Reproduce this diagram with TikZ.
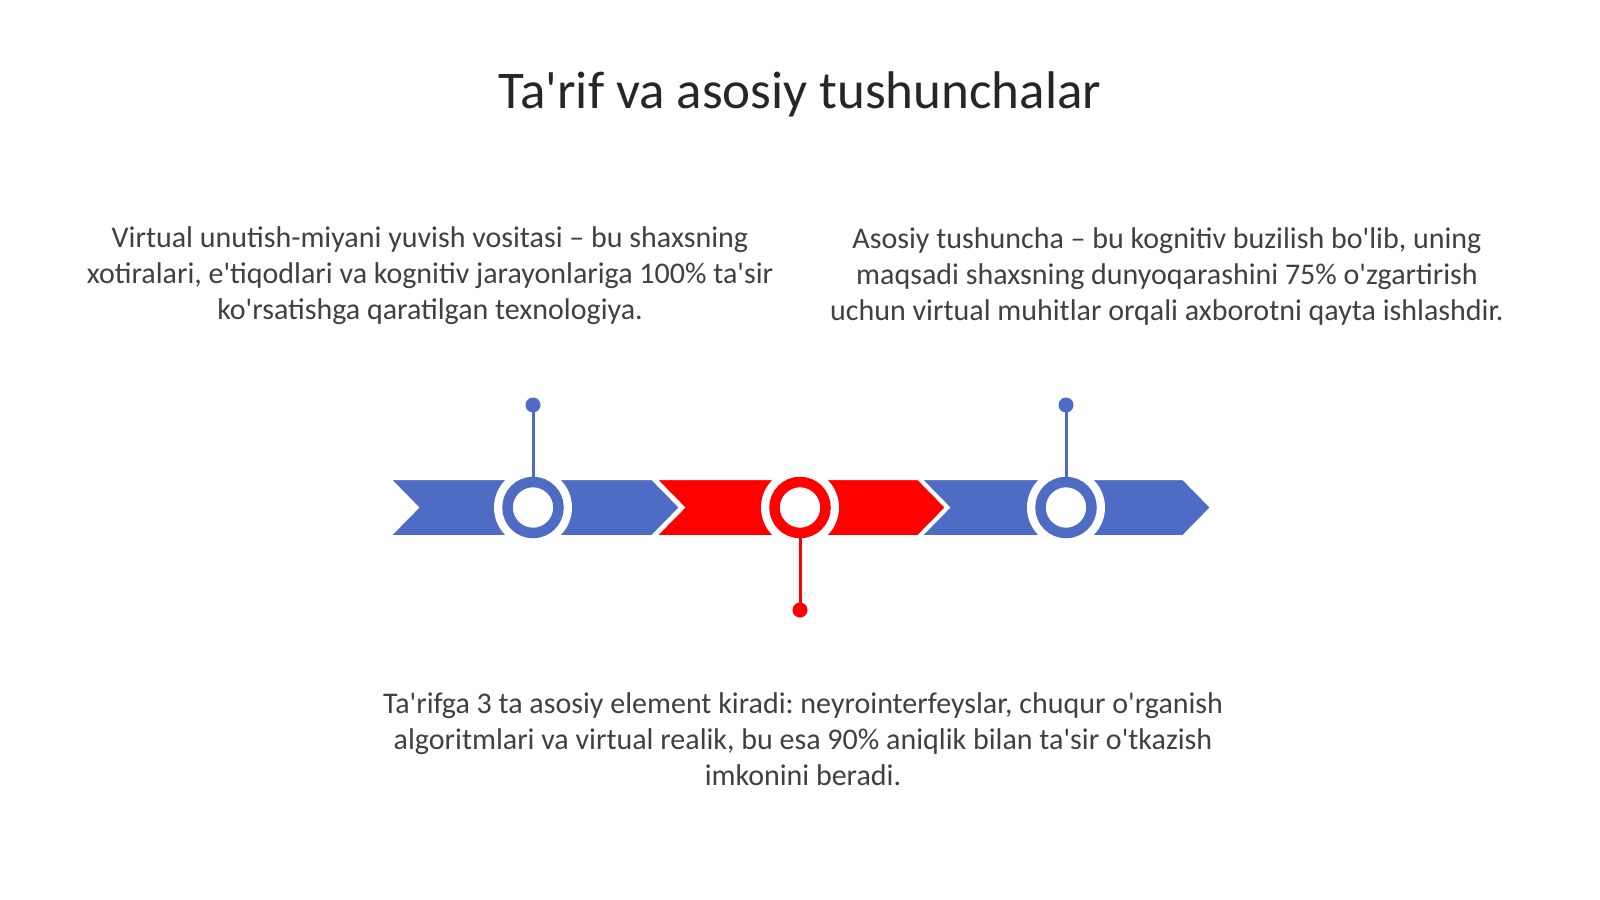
\documentclass[tikz,border=0pt]{standalone}
\usepackage{fontspec}
\setmainfont{Carlito}[Ligatures=TeXOff]
\frenchspacing
\definecolor{tlblue}{RGB}{78,108,196}
\definecolor{tlred}{RGB}{255,0,0}
\definecolor{txt}{RGB}{64,64,64}
\definecolor{ttl}{RGB}{38,38,38}
\tikzset{
  chev/.style={line width=2pt, draw=white, line join=miter},
  gapc/.style={circle, fill=white, minimum size=78pt, inner sep=0pt},
  ringc/.style={circle, minimum size=51pt, inner sep=0pt, fill=white, line width=10.5pt},
  dotc/.style={circle, minimum size=15pt, inner sep=0pt},
  pin/.style={line width=3pt},
  para/.style={text=txt, align=center, font=\fontsize{30}{36}\selectfont, inner sep=0pt},
}
\begin{document}
\begin{tikzpicture}[x=1pt,y=-1pt]
\useasboundingbox (0,0) rectangle (1600,899);
\fill[white] (0,0) rectangle (1600,899);
\node[text=ttl, font=\fontsize{53}{60}\selectfont, inner sep=0pt] (title) at (800,94) {Ta'rif va asosiy tushunchalar};
% chevrons
\foreach \cx/\col in {535/tlblue, 801/tlred, 1066/tlblue}{
  \fill[chev, fill=\col] (\cx-145,479) -- (\cx+117,479) -- (\cx+145,507.5) -- (\cx+117,536) -- (\cx-145,536) -- (\cx-117,507.5) -- cycle;
}
% circles
\node[gapc] (g1) at (533,507.5) {};
\node[gapc] (g2) at (800,507.5) {};
\node[gapc] (g3) at (1066,507.5) {};
\node[ringc, draw=tlblue] (c1) at (533,507.5) {};
\node[ringc, draw=tlred] (c2) at (800,507.5) {};
\node[ringc, draw=tlblue] (c3) at (1066,507.5) {};
% pins
\node[dotc, fill=tlblue] (d1) at (533,405) {};
\node[dotc, fill=tlred] (d2) at (800,610) {};
\node[dotc, fill=tlblue] (d3) at (1066,405) {};
\draw[pin, draw=tlblue] (d1.center) -- ([yshift=-4pt]c1.north);
\draw[pin, draw=tlred] (d2.center) -- ([yshift=4pt]c2.south);
\draw[pin, draw=tlblue] (d3.center) -- ([yshift=-4pt]c3.north);
% texts
\node[para] (t1) at (430,276) {Virtual unutish-miyani yuvish vositasi – bu shaxsning\\xotiralari, e'tiqodlari va kognitiv jarayonlariga 100\% ta'sir\\ko'rsatishga qaratilgan texnologiya.};
\node[para] (t2) at (1167,276) {Asosiy tushuncha – bu kognitiv buzilish bo'lib, uning\\maqsadi shaxsning dunyoqarashini 75\% o'zgartirish\\uchun virtual muhitlar orqali axborotni qayta ishlashdir.};
\node[para] (t3) at (803,739) {Ta'rifga 3 ta asosiy element kiradi: neyrointerfeyslar, chuqur o'rganish\\algoritmlari va virtual realik, bu esa 90\% aniqlik bilan ta'sir o'tkazish\\imkonini beradi.};
\end{tikzpicture}
\end{document}
